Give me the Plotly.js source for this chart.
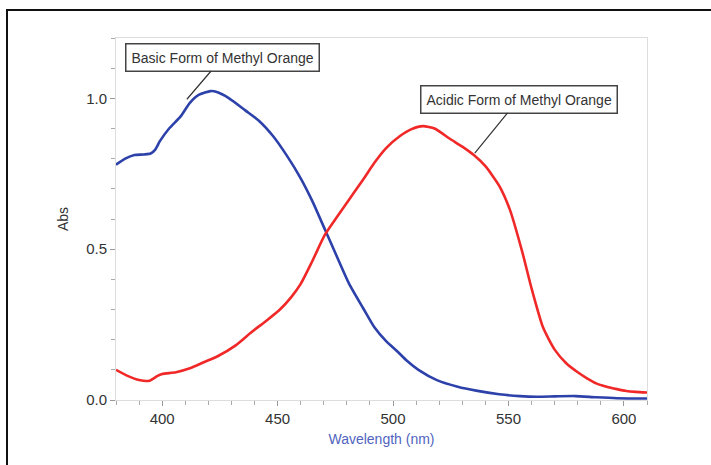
<!DOCTYPE html>
<html>
<head>
<meta charset="utf-8">
<script src="https://cdn.plot.ly/plotly-3.0.1.min.js"></script>
<style>
html,body{margin:0;padding:0;background:#fff;}
#wrap{position:relative;width:711px;height:465px;overflow:hidden;}
#frame{position:absolute;left:6px;top:9px;width:800px;height:600px;border-left:2px solid #111;border-top:2px solid #111;pointer-events:none;}
#chart{position:absolute;left:0;top:0;width:711px;height:465px;}
</style>
</head>
<body>
<div id="wrap"><div id="chart"></div><div id="frame"></div></div>
<script>
// Basic form (blue)
const basicWavelength = [380,384,388,392,395,397,399,403,408,412,416,421,424,429,436,442,448,454,460,465,470.5,476,481,487,492,497,502,506,511,519,528,536,546,555,562,570,579,588,597,610];
const basicAbs = [0.78,0.80,0.812,0.814,0.817,0.83,0.858,0.90,0.94,0.985,1.012,1.024,1.02,1.0,0.96,0.925,0.875,0.81,0.735,0.66,0.565,0.47,0.385,0.305,0.24,0.195,0.16,0.13,0.10,0.066,0.044,0.031,0.019,0.013,0.011,0.012,0.013,0.009,0.006,0.005];
// Acidic form (red)
const acidicWavelength = [380,385,390,394.5,398,400,406,412,418,424,432,439,445,451,456,460,465,470.5,476,481,487,492,497,503,508,513,518,524.6,530,535,540,546,550.6,556,560,565,570,575,580,584,588,592.5,597,601,605,610];
const acidicAbs = [0.10,0.08,0.066,0.064,0.08,0.086,0.092,0.105,0.125,0.145,0.182,0.227,0.262,0.30,0.342,0.385,0.46,0.548,0.61,0.665,0.73,0.787,0.835,0.875,0.898,0.908,0.90,0.866,0.84,0.812,0.775,0.71,0.631,0.49,0.37,0.24,0.167,0.122,0.092,0.072,0.055,0.044,0.036,0.03,0.027,0.025];
const xTickVals = [400,450,500,550,600];
const yTickVals = [0.0,0.5,1.0];
const basicLabel = "Basic Form of Methyl Orange";
const acidicLabel = "Acidic Form of Methyl Orange";

const traces = [
  {x: basicWavelength, y: basicAbs, mode: 'lines', line: {color: 'rgb(45,65,170)', width: 2.6, shape: 'spline', smoothing: 0.6}, hoverinfo: 'skip'},
  {x: acidicWavelength, y: acidicAbs, mode: 'lines', line: {color: 'rgb(240,40,40)', width: 2.6, shape: 'spline', smoothing: 0.6}, hoverinfo: 'skip'}
];

const annFont = {family: 'Liberation Sans, Arial, sans-serif', size: 14, color: '#333'};
const layout = {
  width: 711, height: 465,
  margin: {l: 116, r: 64, t: 38, b: 65},
  paper_bgcolor: '#fff', plot_bgcolor: '#fff',
  showlegend: false,
  font: {family: 'Liberation Sans, Arial, sans-serif', color: '#333'},
  xaxis: {
    range: [380, 610], tickmode: 'array', tickvals: xTickVals,
    ticks: 'outside', ticklen: 5, tickcolor: '#999', tickwidth: 1,
    minor: {dtick: 10, tick0: 400, ticks: 'outside', ticklen: 4, tickcolor: '#aaa'},
    showgrid: false, zeroline: false,
    showline: true, linecolor: '#ddd', linewidth: 1, mirror: true,
    tickfont: {size: 15, color: '#333'},
    title: {text: 'Wavelength (nm)', font: {size: 14, color: 'rgb(80,100,190)'}, standoff: 8}
  },
  yaxis: {
    range: [0, 1.2], tickmode: 'array', tickvals: yTickVals, tickformat: '.1f',
    ticks: 'outside', ticklen: 5, tickcolor: '#999', tickwidth: 1,
    minor: {dtick: 0.1, tick0: 0, ticks: 'outside', ticklen: 4, tickcolor: '#aaa'},
    showgrid: false, zeroline: false,
    showline: true, linecolor: '#ddd', linewidth: 1, mirror: true,
    tickfont: {size: 15, color: '#333'},
    title: {text: 'Abs', font: {size: 14, color: '#333'}, standoff: 14}
  },
  annotations: [
    {x: 410.7, y: 0.997, xref: 'x', yref: 'y', text: basicLabel, showarrow: true, arrowhead: 0, arrowwidth: 1.2, arrowcolor: '#333',
     ax: 36, ay: -42, font: annFont, bgcolor: '#fff', bordercolor: '#444', borderwidth: 1.5, borderpad: 5},
    {x: 535.4, y: 0.818, xref: 'x', yref: 'y', text: acidicLabel, showarrow: true, arrowhead: 0, arrowwidth: 1.2, arrowcolor: '#333',
     ax: 44, ay: -54, font: annFont, bgcolor: '#fff', bordercolor: '#444', borderwidth: 1.5, borderpad: 5}
  ]
};
Plotly.newPlot('chart', traces, layout, {staticPlot: true, displayModeBar: false});
</script>
</body>
</html>
